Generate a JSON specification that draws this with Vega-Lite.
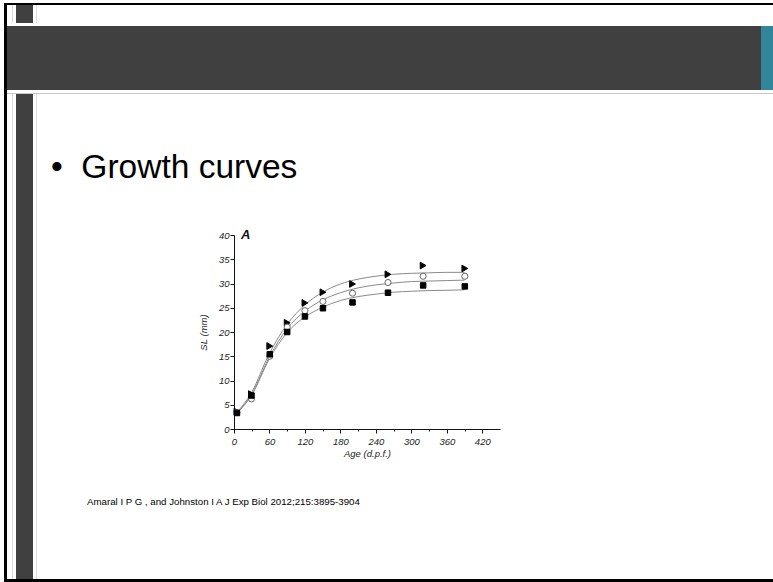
{
  "$schema": "https://vega.github.io/schema/vega-lite/v6.json",
  "padding": {"left": 4, "top": 3, "right": 0, "bottom": 0},
  "background": "white",
  "spacing": 0,
  "config": {
    "view": {"stroke": null},
    "concat": {"spacing": 0},
    "axis": {
      "grid": false,
      "domainColor": "#111",
      "domainWidth": 1,
      "tickColor": "#111",
      "tickWidth": 1,
      "labelFont": "Liberation Sans",
      "labelFontStyle": "italic",
      "labelFontSize": 9.5,
      "labelColor": "#222",
      "titleFont": "Liberation Sans",
      "titleFontStyle": "italic",
      "titleFontWeight": "normal",
      "titleFontSize": 9.5,
      "titleColor": "#222"
    }
  },
  "datasets": {
    "points": [
      {"series": "upper", "age": 5, "sl": 3.6},
      {"series": "upper", "age": 29.5, "sl": 7.2},
      {"series": "upper", "age": 60.5, "sl": 17.1},
      {"series": "upper", "age": 90, "sl": 21.9},
      {"series": "upper", "age": 120, "sl": 26.0},
      {"series": "upper", "age": 150.5, "sl": 28.2},
      {"series": "upper", "age": 200.5, "sl": 29.9},
      {"series": "upper", "age": 260.5, "sl": 31.9},
      {"series": "upper", "age": 320, "sl": 33.7},
      {"series": "upper", "age": 390.5, "sl": 33.1},
      {"series": "middle", "age": 5, "sl": 3.4},
      {"series": "middle", "age": 29.5, "sl": 6.2},
      {"series": "middle", "age": 60.5, "sl": 15.0},
      {"series": "middle", "age": 90, "sl": 21.0},
      {"series": "middle", "age": 120, "sl": 24.4},
      {"series": "middle", "age": 150.5, "sl": 26.3},
      {"series": "middle", "age": 200.5, "sl": 28.0},
      {"series": "middle", "age": 260.5, "sl": 30.2},
      {"series": "middle", "age": 320, "sl": 31.5},
      {"series": "middle", "age": 390.5, "sl": 31.5},
      {"series": "lower", "age": 5, "sl": 3.3},
      {"series": "lower", "age": 29.5, "sl": 6.9},
      {"series": "lower", "age": 60.5, "sl": 15.4},
      {"series": "lower", "age": 90, "sl": 20.0},
      {"series": "lower", "age": 120, "sl": 23.2},
      {"series": "lower", "age": 150.5, "sl": 24.9},
      {"series": "lower", "age": 200.5, "sl": 26.1},
      {"series": "lower", "age": 260.5, "sl": 28.1},
      {"series": "lower", "age": 320, "sl": 29.6},
      {"series": "lower", "age": 390.5, "sl": 29.4}
    ],
    "curves": [
      {"series": "upper", "age": 5, "sl": 3.4},
      {"series": "upper", "age": 30, "sl": 7.6},
      {"series": "upper", "age": 60, "sl": 15.6},
      {"series": "upper", "age": 90, "sl": 21.6},
      {"series": "upper", "age": 120, "sl": 25.6},
      {"series": "upper", "age": 150, "sl": 28.2},
      {"series": "upper", "age": 180, "sl": 29.9},
      {"series": "upper", "age": 210, "sl": 30.9},
      {"series": "upper", "age": 240, "sl": 31.5},
      {"series": "upper", "age": 270, "sl": 31.9},
      {"series": "upper", "age": 300, "sl": 32.1},
      {"series": "upper", "age": 330, "sl": 32.2},
      {"series": "upper", "age": 360, "sl": 32.3},
      {"series": "upper", "age": 390, "sl": 32.3},
      {"series": "middle", "age": 5, "sl": 3.3},
      {"series": "middle", "age": 30, "sl": 7.2},
      {"series": "middle", "age": 60, "sl": 14.9},
      {"series": "middle", "age": 90, "sl": 20.7},
      {"series": "middle", "age": 120, "sl": 24.3},
      {"series": "middle", "age": 150, "sl": 26.6},
      {"series": "middle", "age": 180, "sl": 28.1},
      {"series": "middle", "age": 210, "sl": 29.1},
      {"series": "middle", "age": 240, "sl": 29.7},
      {"series": "middle", "age": 270, "sl": 30.1},
      {"series": "middle", "age": 300, "sl": 30.4},
      {"series": "middle", "age": 330, "sl": 30.5},
      {"series": "middle", "age": 360, "sl": 30.6},
      {"series": "middle", "age": 390, "sl": 30.7},
      {"series": "lower", "age": 5, "sl": 3.3},
      {"series": "lower", "age": 30, "sl": 7.0},
      {"series": "lower", "age": 60, "sl": 14.5},
      {"series": "lower", "age": 90, "sl": 19.9},
      {"series": "lower", "age": 120, "sl": 23.1},
      {"series": "lower", "age": 150, "sl": 25.1},
      {"series": "lower", "age": 180, "sl": 26.5},
      {"series": "lower", "age": 210, "sl": 27.3},
      {"series": "lower", "age": 240, "sl": 27.8},
      {"series": "lower", "age": 270, "sl": 28.2},
      {"series": "lower", "age": 300, "sl": 28.4},
      {"series": "lower", "age": 330, "sl": 28.55},
      {"series": "lower", "age": 360, "sl": 28.6},
      {"series": "lower", "age": 390, "sl": 28.7}
    ]
  },
  "hconcat": [
    {"width": 3, "height": 579, "data": {"values": [{}]}, "mark": {"type": "point", "opacity": 0, "size": 0}, "view": {"fill": "#000000"}},
    {
      "spacing": 0,
      "vconcat": [
        {"width": 766, "height": 2, "data": {"values": [{}]}, "mark": {"type": "point", "opacity": 0, "size": 0}, "view": {"fill": "#000000"}},
        {
          "spacing": 0,
          "hconcat": [
            {"width": 5, "height": 18, "data": {"values": [{}]}, "mark": {"type": "point", "opacity": 0, "size": 0}},
            {"width": 1, "height": 18, "data": {"values": [{}]}, "mark": {"type": "point", "opacity": 0, "size": 0}, "view": {"fill": "#dcdcdc"}},
            {"width": 3, "height": 18, "data": {"values": [{}]}, "mark": {"type": "point", "opacity": 0, "size": 0}},
            {"width": 17, "height": 18, "data": {"values": [{}]}, "mark": {"type": "point", "opacity": 0, "size": 0}, "view": {"fill": "#404040"}},
            {"width": 3, "height": 18, "data": {"values": [{}]}, "mark": {"type": "point", "opacity": 0, "size": 0}},
            {"width": 1, "height": 18, "data": {"values": [{}]}, "mark": {"type": "point", "opacity": 0, "size": 0}, "view": {"fill": "#dcdcdc"}},
            {"width": 736, "height": 18, "data": {"values": [{}]}, "mark": {"type": "point", "opacity": 0, "size": 0}}
          ]
        },
        {"width": 766, "height": 3, "data": {"values": [{}]}, "mark": {"type": "point", "opacity": 0, "size": 0}},
        {
          "spacing": 0,
          "hconcat": [
            {"width": 754, "height": 64, "data": {"values": [{}]}, "mark": {"type": "point", "opacity": 0, "size": 0}, "view": {"fill": "#404040"}},
            {"width": 12, "height": 64, "data": {"values": [{}]}, "mark": {"type": "point", "opacity": 0, "size": 0}, "view": {"fill": "#31869c"}}
          ]
        },
        {"width": 766, "height": 3, "data": {"values": [{}]}, "mark": {"type": "point", "opacity": 0, "size": 0}},
        {"width": 766, "height": 1, "data": {"values": [{}]}, "mark": {"type": "point", "opacity": 0, "size": 0}, "view": {"fill": "#c8c8c8"}},
        {
          "spacing": 0,
          "hconcat": [
            {"width": 5, "height": 485, "data": {"values": [{}]}, "mark": {"type": "point", "opacity": 0, "size": 0}},
            {"width": 1, "height": 485, "data": {"values": [{}]}, "mark": {"type": "point", "opacity": 0, "size": 0}, "view": {"fill": "#dcdcdc"}},
            {"width": 3, "height": 485, "data": {"values": [{}]}, "mark": {"type": "point", "opacity": 0, "size": 0}},
            {"width": 17, "height": 485, "data": {"values": [{}]}, "mark": {"type": "point", "opacity": 0, "size": 0}, "view": {"fill": "#404040"}},
            {"width": 3, "height": 485, "data": {"values": [{}]}, "mark": {"type": "point", "opacity": 0, "size": 0}},
            {"width": 1, "height": 485, "data": {"values": [{}]}, "mark": {"type": "point", "opacity": 0, "size": 0}, "view": {"fill": "#dcdcdc"}},
            {
              "spacing": 0,
              "vconcat": [
                {
                  "width": 736,
                  "height": 400,
                  "title": {
                    "text": "•\u00a0\u00a0Growth curves",
                    "anchor": "start",
                    "frame": "group",
                    "orient": "top",
                    "offset": -117,
                    "dx": 14,
                    "font": "Liberation Sans",
                    "fontSize": 33.5,
                    "fontWeight": "normal",
                    "color": "#000000",
                    "baseline": "alphabetic"
                  },
                  "layer": [
                    {
                      "data": {"name": "curves"},
                      "mark": {"type": "line", "color": "#8a8a8a", "strokeWidth": 1, "interpolate": "monotone"},
                      "encoding": {
                        "x": {
                          "field": "age", "type": "quantitative",
                          "scale": {"domain": [0, 420], "range": [197, 463]},
                          "axis": {
                            "orient": "bottom",
                            "offset": -65,
                            "values": [0, 30, 60, 90, 120, 150, 180, 210, 240, 270, 300, 330, 360, 390, 420],
                            "labelExpr": "datum.value % 60 === 0 ? datum.label : ''",
                            "tickSize": {"condition": {"test": "datum.value % 60 === 0", "value": 4}, "value": 2},
                            "labelOverlap": false,
                            "labelFlush": false,
                            "labelPadding": 3,
                            "title": "Age (d.p.f.)",
                            "titlePadding": 3
                          }
                        },
                        "y": {
                          "field": "sl", "type": "quantitative",
                          "scale": {"domain": [0, 40], "range": [335, 141]},
                          "axis": {
                            "orient": "left",
                            "offset": -197,
                            "values": [0, 2.5, 5, 7.5, 10, 12.5, 15, 17.5, 20, 22.5, 25, 27.5, 30, 32.5, 35, 37.5, 40],
                            "labelExpr": "datum.value % 5 === 0 ? datum.label : ''",
                            "tickSize": {"condition": {"test": "datum.value % 5 === 0", "value": 4}, "value": 2},
                            "labelOverlap": false,
                            "labelPadding": 1,
                            "title": "SL (mm)",
                            "titlePadding": 10
                          }
                        },
                        "detail": {"field": "series"}
                      }
                    },
                    {
                      "data": {"name": "points"},
                      "mark": {"type": "point", "filled": true, "strokeWidth": 1, "opacity": 1},
                      "encoding": {
                        "x": {"field": "age", "type": "quantitative"},
                        "y": {"field": "sl", "type": "quantitative"},
                        "shape": {"field": "series", "type": "nominal", "scale": {"domain": ["upper", "middle", "lower"], "range": ["triangle-right", "circle", "square"]}, "legend": null},
                        "fill": {"field": "series", "type": "nominal", "scale": {"domain": ["upper", "middle", "lower"], "range": ["#000000", "#ffffff", "#000000"]}, "legend": null},
                        "stroke": {"field": "series", "type": "nominal", "scale": {"domain": ["upper", "middle", "lower"], "range": ["#000000", "#666666", "#000000"]}, "legend": null},
                        "size": {"field": "series", "type": "nominal", "scale": {"domain": ["upper", "middle", "lower"], "range": [45, 30, 26]}, "legend": null}
                      }
                    },
                    {
                      "data": {"values": [{"label": "A"}]},
                      "mark": {"type": "text", "font": "Liberation Sans", "fontStyle": "italic", "fontWeight": "bold", "fontSize": 13, "align": "left", "baseline": "alphabetic", "color": "#111"},
                      "encoding": {
                        "x": {"datum": 12, "type": "quantitative"},
                        "y": {"datum": 39.2, "type": "quantitative"},
                        "text": {"field": "label"}
                      }
                    }
                  ]
                },
                {
                  "width": 736,
                  "height": 85,
                  "data": {"values": [{}]},
                  "mark": {"type": "point", "opacity": 0, "size": 0},
                  "title": {
                    "text": "Amaral I P G , and Johnston I A J Exp Biol 2012;215:3895-3904",
                    "anchor": "start",
                    "frame": "group",
                    "orient": "top",
                    "offset": -21,
                    "dx": 50,
                    "font": "Liberation Sans",
                    "fontSize": 9.7,
                    "fontWeight": "normal",
                    "color": "#000000",
                    "baseline": "alphabetic"
                  }
                }
              ]
            }
          ]
        },
        {"width": 766, "height": 3, "data": {"values": [{}]}, "mark": {"type": "point", "opacity": 0, "size": 0}, "view": {"fill": "#000000"}}
      ]
    }
  ]
}
